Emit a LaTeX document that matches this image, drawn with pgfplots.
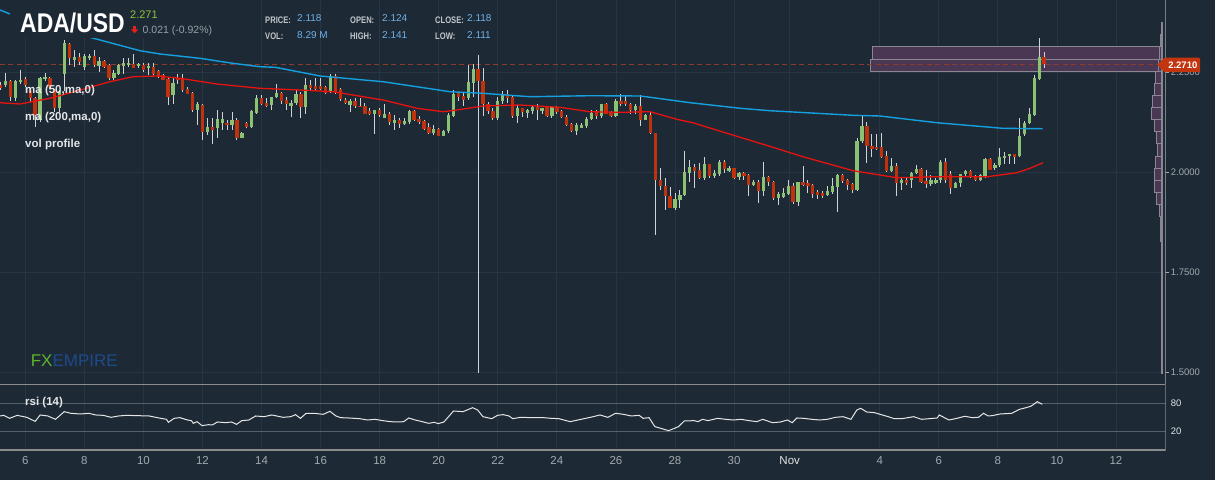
\documentclass[border=0pt]{standalone}
\usepackage{fontspec}
\setmainfont{Liberation Sans}
\usepackage{graphicx}
\usepackage{pgfplots}
\usepackage{pgfplotstable}
\pgfplotsset{compat=1.18}
\definecolor{bgc}{HTML}{1D2935}
\definecolor{gridc}{HTML}{283643}
\definecolor{axc}{HTML}{A9ADB1}
\definecolor{sepc}{HTML}{8C8C8C}
\definecolor{tickc}{HTML}{A3A9AF}
\definecolor{novc}{HTML}{E4E6E8}
\definecolor{upc}{HTML}{8BC173}
\definecolor{dnc}{HTML}{C0310E}
\definecolor{wickc}{HTML}{D0D2D4}
\definecolor{bluema}{HTML}{14A0DE}
\definecolor{redma}{HTML}{E8120E}
\definecolor{vpfill}{HTML}{4A3753}
\definecolor{vpline}{HTML}{8A8792}
\definecolor{dashc}{HTML}{8E3A2C}
\definecolor{tagc}{HTML}{C2350F}
\definecolor{rsigrid}{HTML}{56616B}
\definecolor{rsic}{HTML}{E6E6E6}
\definecolor{fxg}{HTML}{5DB42A}
\definecolor{fxb}{HTML}{1D4A8C}
\definecolor{hlab}{HTML}{C3C7CB}
\definecolor{hval}{HTML}{6FB2EA}
\definecolor{pgreen}{HTML}{8CC43C}
\definecolor{chgc}{HTML}{9AA0A6}
\definecolor{arrc}{HTML}{E3201A}

\pgfplotstableread{
i o h l c
1 2.219 2.249 2.215 2.228
3 2.186 2.232 2.180 2.228
4 2.226 2.257 2.222 2.232
8 2.132 2.240 2.128 2.236
9 2.234 2.250 2.230 2.240
12 2.161 2.208 2.153 2.203
13 2.248 2.332 2.205 2.323
15 2.282 2.307 2.265 2.290
17 2.265 2.298 2.257 2.292
18 2.286 2.298 2.282 2.292
20 2.267 2.290 2.253 2.279
23 2.236 2.257 2.232 2.250
24 2.248 2.273 2.244 2.269
25 2.267 2.286 2.248 2.273
26 2.269 2.286 2.265 2.273
28 2.267 2.274 2.263 2.272
30 2.261 2.274 2.244 2.267
35 2.194 2.236 2.173 2.223
40 2.157 2.178 2.119 2.172
42 2.103 2.136 2.094 2.115
44 2.111 2.157 2.086 2.134
45 2.125 2.153 2.107 2.134
47 2.119 2.153 2.107 2.132
49 2.088 2.103 2.086 2.100
51 2.115 2.157 2.113 2.153
52 2.150 2.194 2.148 2.186
55 2.169 2.190 2.157 2.188
56 2.190 2.222 2.186 2.200
59 2.167 2.182 2.140 2.175
60 2.175 2.208 2.169 2.197
62 2.164 2.238 2.148 2.219
67 2.203 2.247 2.200 2.242
71 2.169 2.184 2.153 2.178
76 2.147 2.158 2.096 2.157
78 2.138 2.171 2.136 2.146
80 2.125 2.144 2.107 2.132
82 2.123 2.138 2.119 2.130
83 2.128 2.157 2.122 2.154
88 2.100 2.119 2.094 2.109
90 2.093 2.107 2.092 2.104
91 2.104 2.149 2.100 2.144
92 2.142 2.207 2.140 2.197
95 2.186 2.269 2.182 2.226
96 2.225 2.273 2.190 2.259
101 2.138 2.190 2.133 2.179
102 2.179 2.205 2.173 2.197
105 2.142 2.169 2.125 2.162
107 2.150 2.160 2.138 2.157
108 2.154 2.167 2.148 2.165
110 2.154 2.163 2.148 2.161
112 2.142 2.167 2.138 2.163
117 2.105 2.125 2.094 2.119
118 2.113 2.125 2.111 2.119
119 2.117 2.140 2.111 2.133
120 2.134 2.157 2.132 2.150
122 2.142 2.173 2.136 2.172
125 2.142 2.184 2.140 2.179
129 2.158 2.173 2.147 2.167
131 2.133 2.148 2.132 2.144
137 1.913 1.950 1.908 1.933
138 1.933 1.958 1.911 1.944
139 1.944 2.055 1.942 2.001
140 2.000 2.033 1.977 2.013
143 1.988 2.040 1.983 2.021
145 1.992 2.008 1.988 2.000
146 1.997 2.032 1.993 2.026
148 2.005 2.018 2.003 2.012
150 1.990 2.003 1.982 2.000
153 1.969 1.982 1.967 1.977
155 1.955 2.027 1.942 1.988
158 1.937 1.953 1.920 1.947
159 1.940 1.961 1.938 1.948
160 1.947 1.983 1.944 1.967
162 1.928 1.978 1.917 1.976
168 1.944 1.967 1.942 1.953
169 1.953 1.986 1.948 1.967
170 1.965 1.997 1.903 1.993
174 1.957 2.086 1.955 2.079
175 2.079 2.142 2.075 2.117
181 2.005 2.036 2.003 2.017
183 1.975 1.986 1.957 1.982
185 1.982 2.003 1.963 2.000
186 2.000 2.019 1.997 2.008
189 1.971 1.994 1.967 1.982
190 1.975 1.986 1.972 1.982
191 1.983 2.032 1.975 2.026
194 1.963 1.977 1.961 1.975
195 1.975 1.998 1.965 1.997
196 1.997 2.007 1.992 2.005
199 1.983 1.998 1.980 1.994
200 1.992 2.036 1.988 2.033
202 2.011 2.025 2.008 2.019
203 2.019 2.061 2.015 2.040
204 2.036 2.053 2.023 2.042
205 2.042 2.048 2.023 2.047
207 2.042 2.138 2.040 2.092
208 2.097 2.130 2.092 2.123
209 2.125 2.163 2.123 2.147
210 2.144 2.244 2.142 2.236
211 2.234 2.336 2.232 2.288
}\candUp

\pgfplotstableread{
i o h l c
0 2.219 2.228 2.207 2.211
2 2.228 2.232 2.180 2.190
5 2.233 2.240 2.215 2.219
6 2.207 2.212 2.178 2.186
7 2.186 2.190 2.115 2.144
10 2.236 2.240 2.210 2.215
11 2.207 2.210 2.153 2.161
14 2.322 2.325 2.270 2.286
16 2.290 2.300 2.270 2.278
19 2.292 2.307 2.265 2.269
21 2.278 2.282 2.263 2.265
22 2.269 2.273 2.232 2.236
27 2.271 2.298 2.261 2.263
29 2.269 2.274 2.253 2.257
31 2.263 2.274 2.244 2.248
32 2.253 2.257 2.236 2.240
33 2.244 2.248 2.232 2.233
34 2.233 2.240 2.169 2.190
36 2.236 2.248 2.223 2.232
37 2.236 2.248 2.203 2.207
38 2.208 2.215 2.197 2.198
39 2.198 2.203 2.153 2.157
41 2.169 2.173 2.082 2.103
43 2.113 2.136 2.073 2.107
46 2.123 2.132 2.107 2.119
48 2.132 2.136 2.082 2.086
50 2.123 2.128 2.111 2.115
53 2.186 2.194 2.169 2.172
54 2.173 2.188 2.165 2.167
57 2.200 2.203 2.171 2.180
58 2.182 2.190 2.158 2.172
61 2.197 2.203 2.138 2.164
63 2.219 2.233 2.208 2.213
64 2.217 2.238 2.207 2.209
65 2.217 2.236 2.208 2.209
66 2.213 2.217 2.197 2.200
68 2.242 2.247 2.197 2.203
69 2.208 2.213 2.179 2.184
70 2.182 2.188 2.171 2.175
72 2.178 2.186 2.163 2.167
73 2.167 2.188 2.165 2.165
74 2.167 2.175 2.147 2.148
75 2.153 2.161 2.144 2.146
77 2.157 2.161 2.140 2.144
79 2.146 2.153 2.119 2.128
81 2.132 2.136 2.111 2.123
84 2.154 2.157 2.130 2.132
85 2.134 2.142 2.122 2.128
86 2.128 2.132 2.107 2.109
87 2.113 2.125 2.098 2.100
89 2.109 2.111 2.092 2.093
93 2.198 2.203 2.180 2.190
94 2.192 2.203 2.167 2.183
97 2.259 2.294 1.500 2.230
98 2.229 2.263 2.142 2.173
99 2.172 2.176 2.147 2.155
100 2.154 2.161 2.133 2.138
103 2.197 2.207 2.175 2.186
104 2.190 2.192 2.138 2.142
106 2.161 2.163 2.140 2.153
109 2.165 2.172 2.133 2.157
111 2.163 2.165 2.140 2.142
113 2.163 2.167 2.148 2.153
114 2.154 2.157 2.136 2.140
115 2.138 2.144 2.117 2.119
116 2.122 2.125 2.103 2.105
121 2.153 2.157 2.134 2.142
123 2.172 2.175 2.147 2.148
124 2.151 2.155 2.140 2.142
126 2.179 2.198 2.167 2.172
127 2.179 2.192 2.167 2.172
128 2.172 2.175 2.148 2.158
130 2.167 2.194 2.117 2.133
132 2.144 2.153 2.098 2.100
133 2.098 2.100 1.844 1.982
134 1.982 2.011 1.957 1.967
135 1.967 1.988 1.908 1.942
136 1.942 1.965 1.911 1.913
141 2.013 2.023 1.963 2.005
142 2.007 2.025 1.985 1.988
144 2.021 2.023 1.988 1.992
147 2.026 2.032 2.000 2.010
149 2.012 2.013 1.984 1.988
151 1.998 2.001 1.982 1.992
152 1.994 1.996 1.943 1.969
154 1.977 1.982 1.925 1.955
156 1.988 1.993 1.967 1.977
157 1.977 1.979 1.933 1.937
161 1.967 1.975 1.923 1.928
163 1.976 2.017 1.967 1.969
164 1.973 1.983 1.950 1.967
165 1.968 1.972 1.936 1.948
166 1.951 1.958 1.934 1.944
167 1.950 1.955 1.936 1.943
171 1.993 1.997 1.975 1.980
172 1.982 1.984 1.958 1.969
173 1.972 1.975 1.950 1.958
176 2.117 2.128 2.025 2.067
177 2.067 2.098 2.040 2.060
178 2.064 2.098 2.057 2.062
179 2.063 2.100 2.036 2.040
180 2.042 2.055 2.003 2.005
182 2.017 2.025 1.942 1.975
184 1.982 1.990 1.969 1.975
187 2.008 2.011 1.975 1.978
188 1.979 2.008 1.963 1.971
192 2.026 2.038 1.975 1.983
193 1.997 2.005 1.947 1.963
197 2.005 2.008 1.986 1.990
198 1.990 1.994 1.980 1.983
201 2.033 2.038 2.007 2.008
206 2.047 2.048 2.023 2.040
212 2.288 2.302 2.261 2.271
}\candDn

\pgfplotstableread{
i p
-0.14 2.4068
1.89 2.3968
10 2.365
20.18 2.3318
28.3 2.305
32.4 2.2968
40.5 2.286
47.2 2.2735
52.7 2.265
55.8 2.2635
64.9 2.2418
77.7 2.2275
91.3 2.2025
98 2.1985
105.5 2.1918
107.6 2.19
119.7 2.1925
129.9 2.1918
132 2.1885
140.1 2.175
150.3 2.161
156.3 2.155
173.2 2.1435
178.6 2.1418
190.2 2.125
203.6 2.111
211.7 2.11
}\maBlue

\pgfplotstableread{
i p
-0.14 2.175
3.92 2.1718
10 2.186
16.7 2.2085
22.2 2.2275
26.9 2.24
31.8 2.2418
36.5 2.236
43.9 2.2218
52.7 2.211
60.8 2.2068
67.5 2.2025
77.7 2.1818
84.6 2.161
89.9 2.1525
92.7 2.1568
98 2.1668
105.5 2.1693
113.6 2.1635
119.7 2.1525
125.8 2.151
131.9 2.1525
137.4 2.1335
140.6 2.125
147.6 2.0985
157.3 2.062
163 2.04
173.2 2.005
182.1 1.9875
190.2 1.99
200.4 1.99
206.5 2.0
209.1 2.011
211.8 2.025
}\maRed

\pgfplotstableread{
i r
-0.14 52.5
0.64 53.9
1.80 47.4
3.36 53.9
5.30 49.6
7.01 40.9
8.02 54.7
9.58 52.5
11.13 45.3
12.92 61.9
14.24 58.3
16.19 56.8
17.90 58.3
19.30 54.7
20.85 53.9
22.41 49.6
23.96 52.5
25.52 53.9
27.85 53.2
30.18 52.5
32.52 47.4
33.68 45.3
34.07 38.8
35.24 47.4
36.40 48.9
37.96 43.8
38.74 42.4
39.13 36.6
39.90 40.2
40.91 31.6
42.24 33.7
43.01 33.0
44.02 39.5
45.73 38.0
46.90 39.5
47.91 34.4
49.00 42.4
50.40 43.8
51.80 52.5
53.51 51.0
55.07 54.7
57.40 49.6
58.95 51.0
59.89 55.4
60.90 47.4
62.06 58.3
63.62 58.3
65.56 56.1
66.88 62.6
68.13 52.5
69.06 48.9
70.62 48.2
72.95 46.7
74.50 43.8
76.06 45.3
77.62 42.4
79.17 40.2
80.73 39.5
81.89 40.2
82.90 48.2
84.22 43.8
85.39 40.9
86.95 36.6
88.11 38.8
88.89 35.9
90.05 39.5
92.00 63.3
93.94 61.9
95.89 70.5
96.90 65.5
97.99 51.0
99.77 46.7
100.94 53.9
102.11 55.4
103.27 52.5
104.05 46.7
105.61 49.6
107.94 48.9
110.27 48.9
111.83 47.4
113.38 46.7
115.71 40.2
117.27 43.8
118.83 47.4
120.38 51.0
121.76 54.7
123.35 49.6
124.95 58.3
126.54 56.1
128.13 52.5
129.73 53.9
130.52 47.4
131.72 48.9
132.91 29.4
134.11 25.8
135.70 20.7
136.90 25.8
137.70 29.4
138.89 41.7
140.88 42.4
141.68 40.2
142.63 45.3
143.67 42.4
145.66 47.4
147.26 45.3
148.85 43.8
150.44 45.3
152.04 42.4
153.63 40.2
154.83 45.3
156.82 38.0
158.41 39.5
159.85 43.8
160.80 38.0
161.76 48.2
163.19 47.4
164.78 45.3
166.38 43.8
167.97 45.3
169.57 49.6
171.16 51.0
172.75 45.3
173.95 65.5
174.74 69.1
175.94 61.2
177.53 59.7
179.13 54.7
180.32 51.0
181.52 46.7
183.11 46.7
184.70 49.6
185.50 51.0
187.09 45.3
188.69 46.7
190.28 48.2
190.68 54.7
192.67 43.8
194.27 47.4
195.86 51.8
197.45 48.9
198.65 49.6
199.68 58.3
200.64 52.5
201.44 53.2
203.03 56.8
205.42 58.3
207.01 66.9
208.61 71.3
209.40 74.2
210.60 83.5
211.63 77.8
}\rsiTab

\newcommand\vp[3]{\addplot[draw=vpline, fill=vpfill, line width=0.7pt, forget plot] coordinates {(#1,#2) (236.0,#2) (236.0,#3) (#1,#3)} -- cycle;}

\begin{document}
\begin{tikzpicture}
\fill[bgc] (0pt,0pt) rectangle (1215pt,480pt);

% ---------------- main price panel ----------------
\begin{axis}[
  at={(0pt,480pt)}, anchor=north west, scale only axis,
  width=1165.7pt, height=384pt,
  xmin=-0.14, xmax=236.7, ymin=1.4718, ymax=2.4318,
  axis line style={draw=none},
  xtick={5,17,29,41,53,65,77,89,101,113,125,137,149,160.3,178.6,190.6,202.6,214.6,226.6},
  xticklabels={},
  xtick style={draw=none},
  ytick={1.5,1.75,2,2.25},
  yticklabels={1.5000,1.7500,2.0000,2.2500},
  yticklabel pos=right, ytick pos=right,
  ytick style={draw=axc, line width=0.8pt},
  tick align=outside, major tick length=3pt,
  yticklabel style={font=\fontsize{9.5}{10}\selectfont, text=tickc, anchor=west, inner sep=0pt, xshift=2pt},
  grid=major, grid style={draw=gridc, line width=0.8pt},
]
% range boxes
\addplot[draw=vpline, fill=vpfill, line width=0.8pt, forget plot] coordinates {(177.1,2.2835) (236.0,2.2835) (236.0,2.316) (177.1,2.316)} -- cycle;
\addplot[draw=vpline, fill=vpfill, line width=0.8pt, forget plot] coordinates {(176.7,2.2535) (236.0,2.2535) (236.0,2.2835) (176.7,2.2835)} -- cycle;
% volume profile
\vp{235.6}{2.3168}{2.3468}
\vp{235.4}{2.2835}{2.3168}
\vp{235.2}{2.2525}{2.2835}
\vp{234.66}{2.2235}{2.2525}
\vp{234.38}{2.1935}{2.2235}
\vp{233.97}{2.1635}{2.1935}
\vp{233.77}{2.1335}{2.1635}
\vp{234.38}{2.1025}{2.1335}
\vp{234.79}{2.0735}{2.1025}
\vp{234.99}{2.042}{2.0735}
\vp{234.58}{2.011}{2.042}
\vp{234.38}{1.981}{2.011}
\vp{234.38}{1.951}{1.981}
\vp{234.79}{1.921}{1.951}
\vp{235.39}{1.89}{1.921}
\vp{235.6}{1.86}{1.89}
\vp{235.6}{1.829}{1.86}
\addplot[draw=vpline, fill=vpline!70!bgc, line width=0.5pt, forget plot] coordinates {(235.8,1.4985) (236.0,1.4985) (236.0,2.375) (235.8,2.375)} -- cycle;
% last price dashed line
\addplot[dashc, line width=1pt, dash pattern=on 5pt off 3.5pt, forget plot] coordinates {(-0.14,2.271) (235.5,2.271)};
% wicks
\addplot[draw=none, mark=none, forget plot,
  error bars/.cd, y dir=both, y explicit, error mark=none,
  error bar style={line width=0.9pt, draw=wickc, solid}]
  table[x=i, y expr={(\thisrow{h}+\thisrow{l})/2}, y error expr={(\thisrow{h}-\thisrow{l})/2}] {\candUp};
\addplot[draw=none, mark=none, forget plot,
  error bars/.cd, y dir=both, y explicit, error mark=none,
  error bar style={line width=0.9pt, draw=wickc, solid}]
  table[x=i, y expr={(\thisrow{h}+\thisrow{l})/2}, y error expr={(\thisrow{h}-\thisrow{l})/2}] {\candDn};
% bodies
\addplot[draw=none, mark=none, forget plot,
  error bars/.cd, y dir=both, y explicit, error mark=none,
  error bar style={line width=3.3pt, draw=upc, solid}]
  table[x=i, y expr={(\thisrow{o}+\thisrow{c})/2}, y error expr={(\thisrow{c}-\thisrow{o})/2+0.0004}] {\candUp};
\addplot[draw=none, mark=none, forget plot,
  error bars/.cd, y dir=both, y explicit, error mark=none,
  error bar style={line width=3.3pt, draw=dnc, solid}]
  table[x=i, y expr={(\thisrow{o}+\thisrow{c})/2}, y error expr={(\thisrow{o}-\thisrow{c})/2+0.0004}] {\candDn};
% moving averages
\addplot[bluema, line width=1.4pt, mark=none] table[x=i,y=p] {\maBlue};
\addplot[redma, line width=1.3pt, mark=none] table[x=i,y=p] {\maRed};
\draw[axc, line width=0.9pt] (rel axis cs:1,0) -- (rel axis cs:1,1);
\end{axis}

% ---------------- RSI panel ----------------
\begin{axis}[
  at={(0pt,96pt)}, anchor=north west, scale only axis,
  width=1165.7pt, height=66pt,
  xmin=-0.14, xmax=236.7, ymin=-21.2, ymax=121.8,
  axis line style={draw=none},
  xtick={5,17,29,41,53,65,77,89,101,113,125,137,149,160.3,178.6,190.6,202.6,214.6,226.6},
  xticklabels={6,8,10,12,14,16,18,20,22,24,26,28,30,{\color{novc}Nov},4,6,8,10,12},
  xtick style={draw=none}, ytick style={draw=none},
  xmajorgrids, grid style={draw=gridc, line width=0.8pt},
  ytick={20,80}, yticklabels={20,80}, yticklabel pos=right,
  yticklabel style={font=\fontsize{9.5}{10}\selectfont, text=novc, anchor=west, inner sep=0pt, xshift=5pt},
  xticklabel style={font=\fontsize{11.5}{12}\selectfont, text=tickc, anchor=north, inner sep=0pt, yshift=-6pt},
]
\addplot[rsigrid, line width=0.9pt, forget plot] coordinates {(-0.14,80) (236.7,80)};
\addplot[rsigrid, line width=0.9pt, forget plot] coordinates {(-0.14,20) (236.7,20)};
\addplot[rsic, line width=1pt, mark=none] table[x=i,y=r] {\rsiTab};
\draw[sepc, line width=1.1pt] (rel axis cs:0,1) -- (rel axis cs:1,1) -- (rel axis cs:1,0) -- (rel axis cs:0,0);
\end{axis}

% ---------------- overlays ----------------
\begin{scope}[x=1pt,y=1pt]
\fill[bgc] (10,442) rectangle (218,480);
\node[anchor=base west, inner sep=0pt, text=white] at (20,447) {\scalebox{0.85}[1]{\fontsize{27}{27}\selectfont\bfseries ADA/USD}};
\node[anchor=base west, inner sep=0pt, text=pgreen] at (130,461) {\fontsize{11}{11}\selectfont 2.271};
\fill[arrc] (133.4,454) rectangle (135.8,450.3);
\fill[arrc] (131,450.5) -- (138.2,450.5) -- (134.6,446.6) -- cycle;
\node[anchor=base west, inner sep=0pt, text=chgc] at (142.5,446.7) {\fontsize{10.5}{11}\selectfont 0.021 (-0.92\%)};

\begin{scope}[every node/.style={anchor=base west, inner sep=0pt}]
\node[text=hlab] at (265,456) {\scalebox{0.8}[1]{\fontsize{9.5}{10}\selectfont\bfseries PRICE:}};
\node[text=hlab] at (265,440) {\scalebox{0.8}[1]{\fontsize{9.5}{10}\selectfont\bfseries VOL:}};
\node[text=hlab] at (350,456) {\scalebox{0.8}[1]{\fontsize{9.5}{10}\selectfont\bfseries OPEN:}};
\node[text=hlab] at (350,440) {\scalebox{0.8}[1]{\fontsize{9.5}{10}\selectfont\bfseries HIGH:}};
\node[text=hlab] at (435,456) {\scalebox{0.8}[1]{\fontsize{9.5}{10}\selectfont\bfseries CLOSE:}};
\node[text=hlab] at (435,440) {\scalebox{0.8}[1]{\fontsize{9.5}{10}\selectfont\bfseries LOW:}};
\node[text=hval] at (297,458.3) {\fontsize{10}{10}\selectfont 2.118};
\node[text=hval] at (297,441.7) {\fontsize{10}{10}\selectfont 8.29 M};
\node[text=hval] at (382,458.3) {\fontsize{10}{10}\selectfont 2.124};
\node[text=hval] at (382,441.7) {\fontsize{10}{10}\selectfont 2.141};
\node[text=hval] at (467,458.3) {\fontsize{10}{10}\selectfont 2.118};
\node[text=hval] at (467,441.7) {\fontsize{10}{10}\selectfont 2.111};
\node[text=novc] at (25,386) {\fontsize{11.5}{12}\selectfont\bfseries ma (50,ma,0)};
\node[text=novc] at (25,359.3) {\fontsize{11.5}{12}\selectfont\bfseries ma (200,ma,0)};
\node[text=novc] at (25,332.7) {\fontsize{11.5}{12}\selectfont\bfseries vol profile};
\node[text=novc] at (25,75) {\fontsize{11.5}{12}\selectfont\bfseries rsi (14)};
\node at (30.6,113.3) {\fontsize{17}{17}\selectfont\textcolor{fxg}{FX}\textcolor{fxb}{EMPIRE}};
\end{scope}

% last price tag
\fill[tagc, rounded corners=1pt] (1157.3,415.3) -- (1164.5,422.3) -- (1200,422.3) -- (1200,407.8) -- (1164.5,407.8) -- cycle;
\node[text=white, inner sep=0pt] at (1182.8,415.1) {\fontsize{9.5}{10}\selectfont\bfseries 2.2710};
\end{scope}

\pgfresetboundingbox
\useasboundingbox (0pt,0pt) rectangle (1215pt,480pt);
\end{tikzpicture}
\end{document}
